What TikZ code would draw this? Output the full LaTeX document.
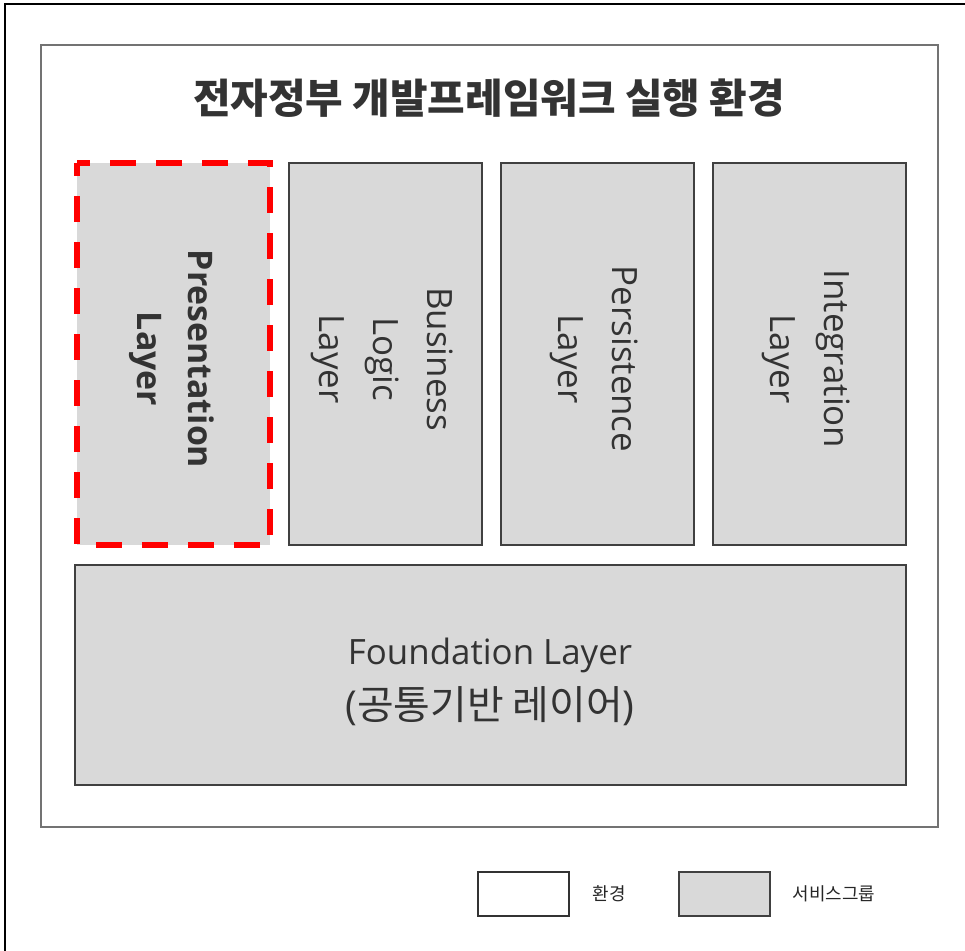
\documentclass[tikz,border=0pt]{standalone}
\usepackage{fontspec}
\setmainfont{Open Sans}
\newfontfamily\kr{Noto Sans CJK KR}
\begin{document}
\begin{tikzpicture}[x=1bp,y=-1bp,
  env/.style={draw=black!55, line width=1.4bp, fill=white},
  grp/.style={draw=black!75, line width=1.4bp, fill=black!15},
  lay/.style={rotate=-90, align=center, font=\fontsize{35}{54}\selectfont, text=black!80},
  legendtxt/.style={font=\kr\fontsize{18}{20}\selectfont, text=black!85}]
\useasboundingbox (0,0) rectangle (965,951);
\draw[line width=1.5bp, black] (5,951) -- (5,4) -- (965,4);
\draw[env] (41,45) rectangle (938,827);
\node[text=black!80] (title) at (489,98) {\kr\bfseries\fontsize{41}{48}\selectfont 전자정부 개발프레임워크 실행 환경};
% Presentation
\fill[black!15] (77,163) rectangle (270,545);
\draw[red, line width=5.5bp, dash pattern=on 26bp off 20bp, dash phase=13bp] (77,163) rectangle (270,545);
\node[lay, font=\bfseries\fontsize{34}{51}\selectfont] (pres) at (172,359) {Presentation\\Layer};
% Business
\draw[grp] (289,163) rectangle (482,545);
\node[lay] (bus) at (382,359) {Business\\Logic\\Layer};
\draw[grp] (501,163) rectangle (694,545);
\node[lay] (pers) at (594,359) {Persistence\\Layer};
\draw[grp] (713,163) rectangle (906,545);
\node[lay] (integ) at (806,359) {Integration\\Layer};
% Foundation
\draw[grp] (75,565) rectangle (906,785);
\node[align=center, font=\fontsize{35}{56}\selectfont, text=black!80] (found) at (490,682) {Foundation Layer\\{\fontsize{40}{56}\selectfont(\kr 공통기반 레이어\normalfont)}};
% Legend
\draw[line width=1.2bp, draw=black!80, fill=white] (478,872) rectangle (569,916);
\node[legendtxt] (l1) at (609,894) {환경};
\draw[line width=1.2bp, draw=black!75, fill=black!15] (679,872) rectangle (770,916);
\node[legendtxt] (l2) at (834,894) {서비스그룹};
\end{tikzpicture}
\end{document}
